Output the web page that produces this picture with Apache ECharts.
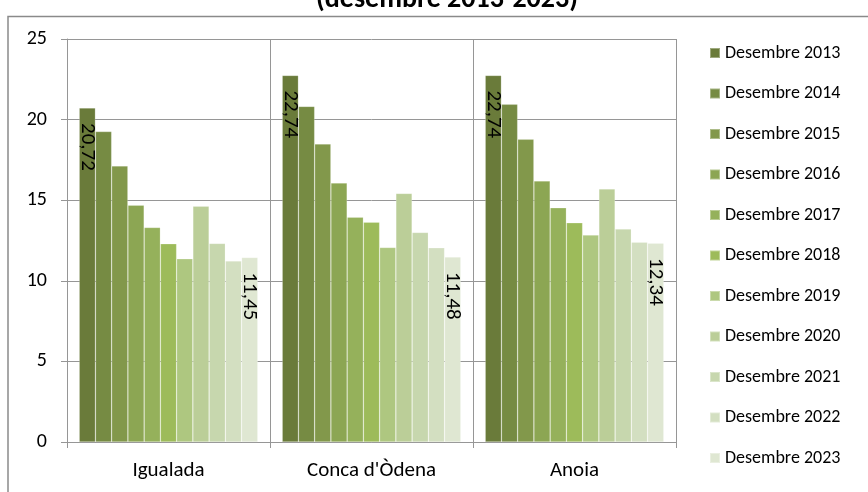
<!DOCTYPE html>
<html>
<head>
<meta charset="utf-8">
<script src="https://cdn.jsdelivr.net/npm/echarts@6/dist/echarts.min.js"></script>
<style>
html,body{margin:0;padding:0;background:#fff;}
#chart{width:868px;height:492px;}
</style>
</head>
<body>
<div id="chart"></div>
<script>
const titleText = '(desembre 2013-2023)';
const categories = ['Igualada', "Conca d'Òdena", 'Anoia'];
const seriesNames = ['Desembre 2013','Desembre 2014','Desembre 2015','Desembre 2016','Desembre 2017','Desembre 2018','Desembre 2019','Desembre 2020','Desembre 2021','Desembre 2022','Desembre 2023'];
const d2013 = [20.72, 22.74, 22.74];
const d2014 = [19.26, 20.82, 20.95];
const d2015 = [17.13, 18.49, 18.78];
const d2016 = [14.69, 16.07, 16.20];
const d2017 = [13.31, 13.95, 14.53];
const d2018 = [12.30, 13.64, 13.60];
const d2019 = [11.37, 12.07, 12.84];
const d2020 = [14.63, 15.42, 15.70];
const d2021 = [12.32, 13.00, 13.21];
const d2022 = [11.23, 12.05, 12.40];
const d2023 = [11.45, 11.48, 12.34];
const seriesData = [d2013, d2014, d2015, d2016, d2017, d2018, d2019, d2020, d2021, d2022, d2023];
const yTicks = [0, 5, 10, 15, 20, 25];
const colors = ['#6a7b3a','#768b43','#82984b','#8ca653','#95b15b','#9dbb5a','#aec780','#bbce98','#c7d7ae','#d3dfc1','#dfe7d2'];
const labelled = [0, 10];

const FONT = 'Carlito, Lato, sans-serif';
const GRID = '#969696';

const chart = echarts.init(document.getElementById('chart'), null, {renderer: 'canvas'});

const series = seriesNames.map((name, i) => ({
  name: name,
  type: 'bar',
  data: seriesData[i],
  barGap: '0%',
  barCategoryGap: '12%',
  itemStyle: {color: colors[i], borderColor: 'rgba(255,255,255,0.35)', borderWidth: 0.6},
  label: {
    show: labelled.indexOf(i) >= 0,
    position: ['50%', 15],
    rotate: -90,
    align: 'left',
    verticalAlign: 'middle',
    fontFamily: FONT,
    fontSize: 21,
    color: '#000',
    formatter: p => p.value.toFixed(2).replace('.', ',')
  },
  emphasis: {disabled: true}
}));

chart.setOption({
  animation: false,
  title: {
    text: titleText,
    left: 442,
    top: -19,
    textAlign: 'center',
    textStyle: {fontFamily: FONT, fontWeight: 'bold', fontSize: 28, color: '#000'}
  },
  graphic: [{
    type: 'rect',
    z: -10,
    shape: {x: 8, y: 16.5, width: 900, height: 520},
    style: {fill: 'none', stroke: '#8a8a8a', lineWidth: 1.5}
  }],
  legend: {
    orient: 'vertical',
    left: 709,
    top: 43,
    padding: 0,
    itemWidth: 10,
    itemHeight: 10,
    itemGap: 20.5,
    icon: 'rect',
    textStyle: {fontFamily: FONT, fontSize: 18, color: '#000', lineHeight: 20},
    data: seriesNames
  },
  grid: {left: 67, right: 192, top: 39, bottom: 50, containLabel: false},
  xAxis: {
    type: 'category',
    data: categories,
    boundaryGap: true,
    axisLine: {show: true, lineStyle: {color: GRID, width: 1}},
    axisTick: {show: true, length: 6, lineStyle: {color: GRID}},
    axisLabel: {fontFamily: FONT, fontSize: 21, color: '#000', margin: 18},
    splitLine: {show: true, lineStyle: {color: GRID, width: 1}}
  },
  yAxis: {
    type: 'value',
    min: yTicks[0],
    max: yTicks[yTicks.length - 1],
    interval: 5,
    axisLine: {show: true, lineStyle: {color: GRID, width: 1}},
    axisTick: {show: true, length: 6, lineStyle: {color: GRID}},
    axisLabel: {fontFamily: FONT, fontSize: 20, color: '#000', margin: 20},
    splitLine: {show: true, lineStyle: {color: GRID, width: 1}}
  },
  series: series
});
</script>
</body>
</html>
